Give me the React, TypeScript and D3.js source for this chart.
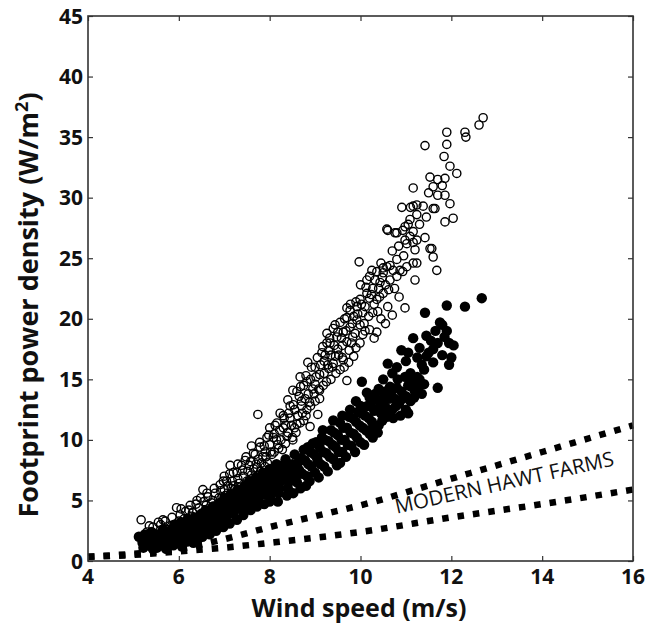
import React, { useEffect, useRef } from 'react';
import * as d3 from 'd3';

// [wind speed (m/s), power density (W/m2)]
const openPoints: [number, number][] = [
  [5.17, 3.4], [5.3, 2.4], [5.35, 2.9], [5.43, 2.8], [5.5, 2.2], [5.55, 3.2], [5.6, 3.0], [5.65, 3.4], [5.7, 3.3],
  [5.75, 2.6], [5.8, 2.9], [5.85, 3.6], [5.9, 3.0], [5.95, 4.4], [6.0, 3.3], [6.03, 3.8], [6.05, 4.3], [6.1, 2.9],
  [6.12, 3.5], [6.15, 4.1], [6.2, 3.5], [6.22, 4.2], [6.25, 4.6], [6.28, 3.7], [6.3, 4.0], [6.35, 3.2], [6.38, 4.7],
  [6.4, 5.0], [6.42, 3.6], [6.45, 4.4], [6.48, 5.2], [6.5, 3.9], [6.53, 5.9], [6.55, 4.9], [6.58, 4.2], [6.6, 4.6],
  [6.62, 5.6], [6.64, 5.3], [6.65, 3.8], [6.7, 4.2], [6.72, 4.8], [6.75, 5.0], [6.78, 6.0], [6.8, 5.6], [6.85, 4.7],
  [6.88, 5.2], [6.9, 4.5], [6.91, 6.3], [6.92, 5.8], [6.95, 5.3], [6.98, 6.6], [7.0, 5.9], [7.0, 7.0], [7.02, 5.4],
  [7.05, 6.6], [7.08, 6.2], [7.1, 5.2], [7.12, 7.2], [7.13, 7.9], [7.15, 6.0], [7.18, 6.6], [7.2, 7.3], [7.2, 6.2],
  [7.22, 5.9], [7.25, 5.7], [7.28, 7.3], [7.3, 6.8], [7.3, 8.0], [7.32, 6.4], [7.35, 6.1], [7.38, 7.9], [7.4, 7.5],
  [7.42, 7.0], [7.45, 6.0], [7.46, 8.3], [7.48, 8.6], [7.5, 6.6], [7.52, 7.4], [7.55, 7.9], [7.58, 8.2], [7.6, 7.1],
  [7.6, 9.5], [7.62, 6.8], [7.64, 8.9], [7.65, 7.6], [7.68, 8.8], [7.7, 8.0], [7.72, 7.7], [7.74, 12.1], [7.75, 8.4],
  [7.78, 9.8], [7.79, 9.4], [7.8, 7.4], [7.82, 8.1], [7.85, 8.6], [7.88, 9.5], [7.9, 9.0], [7.9, 7.8], [7.92, 8.6],
  [7.94, 10.2], [7.95, 8.1], [7.98, 10.4], [8.0, 9.6], [8.0, 11.0], [8.02, 9.0], [8.05, 8.8], [8.08, 10.2],
  [8.1, 10.5], [8.1, 9.0], [8.12, 11.2], [8.15, 10.0], [8.16, 11.4], [8.18, 9.6], [8.2, 9.3], [8.22, 10.8],
  [8.23, 12.2], [8.25, 10.0], [8.28, 9.2], [8.3, 11.0], [8.3, 12.0], [8.32, 11.8], [8.35, 9.7], [8.35, 11.2],
  [8.38, 10.3], [8.4, 13.3], [8.4, 10.6], [8.42, 12.2], [8.45, 11.8], [8.45, 12.8], [8.48, 11.2], [8.5, 10.2],
  [8.51, 14.1], [8.51, 10.0], [8.52, 12.9], [8.55, 12.5], [8.55, 11.0], [8.58, 10.6], [8.6, 11.3], [8.6, 14.0],
  [8.62, 12.0], [8.65, 13.6], [8.67, 15.2], [8.67, 11.4], [8.68, 14.4], [8.7, 12.8], [8.7, 13.2], [8.72, 12.2],
  [8.75, 14.5], [8.75, 11.6], [8.78, 13.4], [8.8, 12.0], [8.8, 15.3], [8.82, 12.5], [8.82, 14.8], [8.84, 16.4],
  [8.85, 13.8], [8.88, 13.1], [8.89, 11.1], [8.9, 15.0], [8.9, 12.8], [8.92, 16.0], [8.95, 14.2], [8.98, 13.8],
  [9.0, 13.2], [9.0, 16.0], [9.0, 14.6], [9.02, 15.2], [9.05, 16.8], [9.06, 12.1], [9.08, 14.2], [9.1, 14.1],
  [9.1, 15.4], [9.1, 13.4], [9.12, 16.2], [9.15, 17.2], [9.17, 17.7], [9.18, 14.5], [9.2, 16.5], [9.2, 15.5],
  [9.22, 17.0], [9.25, 14.8], [9.26, 18.0], [9.26, 18.8], [9.28, 16.2], [9.3, 15.9], [9.3, 17.4], [9.32, 18.4],
  [9.33, 18.0], [9.35, 17.0], [9.35, 15.0], [9.38, 16.0], [9.4, 19.2], [9.4, 16.3], [9.42, 17.8], [9.44, 19.5],
  [9.45, 16.9], [9.46, 15.5], [9.48, 18.5], [9.5, 17.5], [9.5, 18.9], [9.52, 17.0], [9.55, 19.7], [9.55, 15.8],
  [9.58, 18.4], [9.6, 16.8], [9.6, 17.8], [9.62, 18.9], [9.62, 16.6], [9.64, 16.0], [9.65, 20.0], [9.68, 19.0],
  [9.7, 20.1], [9.7, 18.1], [9.7, 14.9], [9.7, 20.9], [9.74, 16.4], [9.75, 17.4], [9.77, 20.7], [9.77, 19.3],
  [9.78, 21.2], [9.8, 18.0], [9.82, 19.6], [9.83, 18.5], [9.85, 16.9], [9.85, 20.2], [9.88, 18.8], [9.9, 21.4],
  [9.9, 17.6], [9.92, 21.0], [9.92, 19.9], [9.94, 20.4], [9.97, 24.7], [9.99, 21.6], [9.99, 19.5], [9.99, 18.0],
  [10.0, 22.8], [10.02, 21.2], [10.05, 20.5], [10.05, 18.7], [10.08, 19.6], [10.1, 19.0], [10.1, 21.0],
  [10.12, 22.6], [10.14, 22.1], [10.14, 23.2], [10.18, 20.2], [10.2, 23.5], [10.2, 21.7], [10.2, 19.1],
  [10.24, 22.0], [10.25, 24.0], [10.27, 22.5], [10.27, 20.5], [10.3, 18.4], [10.3, 21.2], [10.32, 23.2],
  [10.36, 23.9], [10.36, 21.6], [10.36, 18.9], [10.38, 20.6], [10.4, 22.5], [10.42, 21.8], [10.43, 23.0],
  [10.45, 20.0], [10.45, 24.6], [10.48, 23.4], [10.5, 24.2], [10.5, 22.1], [10.5, 23.8], [10.55, 19.6],
  [10.55, 22.8], [10.58, 27.4], [10.58, 24.3], [10.6, 21.0], [10.6, 27.3], [10.62, 22.4], [10.65, 24.4],
  [10.65, 23.2], [10.7, 20.3], [10.7, 25.6], [10.72, 24.0], [10.75, 22.5], [10.76, 27.1], [10.8, 24.9],
  [10.8, 23.5], [10.8, 27.1], [10.84, 26.0], [10.85, 21.8], [10.87, 24.0], [10.91, 29.2], [10.93, 23.9],
  [10.93, 27.3], [10.95, 25.2], [10.98, 27.6], [10.98, 26.5], [10.98, 20.9], [11.02, 26.2], [11.02, 24.3],
  [11.05, 27.8], [11.09, 28.2], [11.09, 26.8], [11.1, 29.2], [11.16, 30.8], [11.16, 29.3], [11.16, 27.2],
  [11.16, 26.3], [11.16, 24.6], [11.2, 25.7], [11.2, 23.2], [11.24, 28.6], [11.24, 29.4], [11.24, 26.5],
  [11.24, 24.6], [11.3, 27.8], [11.38, 29.3], [11.42, 26.7], [11.42, 34.3], [11.45, 28.4], [11.5, 30.4],
  [11.53, 31.7], [11.53, 25.8], [11.57, 25.8], [11.6, 30.9], [11.6, 29.1], [11.6, 25.1], [11.64, 29.1],
  [11.68, 24.0], [11.7, 31.5], [11.7, 30.2], [11.8, 31.0], [11.84, 33.4], [11.86, 31.6], [11.86, 30.2],
  [11.86, 28.0], [11.9, 35.4], [11.9, 34.4], [11.97, 32.6], [11.97, 29.5], [12.04, 28.3], [12.12, 32.0],
  [12.3, 35.4], [12.32, 35.0], [12.61, 36.0], [12.7, 36.6],
];

const filledPoints: [number, number][] = [
  [5.12, 2.0], [5.2, 1.5], [5.22, 1.1], [5.25, 2.2], [5.28, 1.9], [5.3, 1.3], [5.35, 1.8], [5.38, 1.4], [5.4, 2.4],
  [5.43, 1.0], [5.47, 2.0], [5.5, 1.6], [5.52, 1.1], [5.55, 2.2], [5.6, 1.3], [5.62, 1.8], [5.65, 2.6], [5.68, 2.2],
  [5.7, 1.9], [5.72, 1.0], [5.75, 1.4], [5.78, 2.0], [5.8, 2.5], [5.85, 1.8], [5.88, 1.3], [5.9, 3.0], [5.92, 2.5],
  [5.95, 2.2], [5.98, 1.9], [6.0, 1.5], [6.0, 2.7], [6.02, 3.1], [6.05, 3.2], [6.07, 1.2], [6.1, 2.0], [6.12, 2.4],
  [6.15, 2.6], [6.18, 1.6], [6.2, 3.4], [6.22, 3.0], [6.25, 1.9], [6.28, 2.3], [6.3, 2.8], [6.32, 1.5], [6.35, 3.6],
  [6.38, 3.0], [6.4, 2.3], [6.42, 1.8], [6.45, 3.1], [6.48, 3.4], [6.5, 3.9], [6.5, 2.6], [6.52, 2.0], [6.55, 3.3],
  [6.58, 2.8], [6.6, 4.2], [6.62, 3.6], [6.65, 2.8], [6.68, 2.2], [6.7, 3.6], [6.72, 3.2], [6.75, 4.5], [6.78, 4.1],
  [6.8, 3.1], [6.82, 2.5], [6.85, 4.0], [6.88, 3.5], [6.9, 4.8], [6.92, 4.4], [6.95, 3.4], [6.98, 2.8], [7.0, 4.2],
  [7.0, 5.2], [7.02, 3.6], [7.05, 3.7], [7.08, 4.9], [7.1, 4.6], [7.12, 3.1], [7.15, 5.5], [7.18, 4.3], [7.2, 3.9],
  [7.22, 5.3], [7.25, 4.9], [7.28, 3.4], [7.3, 5.9], [7.32, 4.6], [7.35, 4.3], [7.38, 5.7], [7.4, 5.3], [7.42, 3.8],
  [7.45, 6.2], [7.48, 5.0], [7.5, 4.5], [7.5, 5.6], [7.52, 6.1], [7.55, 6.6], [7.58, 4.2], [7.6, 4.9], [7.62, 5.4],
  [7.65, 5.9], [7.68, 6.4], [7.7, 6.9], [7.72, 4.5], [7.75, 5.2], [7.78, 5.7], [7.8, 6.3], [7.82, 6.8], [7.85, 7.3],
  [7.88, 4.7], [7.9, 5.5], [7.92, 6.0], [7.95, 6.6], [7.98, 7.0], [8.0, 7.6], [8.0, 4.9], [8.02, 5.4], [8.05, 5.9],
  [8.08, 6.4], [8.1, 7.0], [8.12, 7.4], [8.15, 8.0], [8.18, 4.9], [8.2, 5.6], [8.22, 6.0], [8.25, 6.6], [8.28, 7.0],
  [8.3, 7.5], [8.32, 8.0], [8.35, 8.4], [8.38, 5.4], [8.4, 6.0], [8.42, 6.5], [8.45, 7.1], [8.48, 7.6], [8.5, 8.0],
  [8.52, 5.6], [8.55, 8.8], [8.58, 7.0], [8.6, 6.5], [8.62, 8.1], [8.65, 7.5], [8.68, 6.0], [8.7, 8.5], [8.72, 7.2],
  [8.75, 9.2], [8.78, 8.3], [8.8, 6.2], [8.82, 7.0], [8.84, 9.4], [8.85, 8.0], [8.88, 6.6], [8.9, 9.0], [8.92, 7.8],
  [8.95, 9.7], [8.98, 8.8], [9.0, 7.3], [9.02, 9.8], [9.05, 8.4], [9.08, 6.9], [9.1, 9.4], [9.12, 8.0], [9.15, 10.2],
  [9.17, 10.8], [9.18, 9.0], [9.2, 7.8], [9.22, 10.0], [9.25, 8.9], [9.28, 7.4], [9.3, 9.9], [9.32, 8.6],
  [9.35, 10.8], [9.38, 9.6], [9.4, 8.4], [9.4, 11.6], [9.42, 10.6], [9.45, 9.4], [9.48, 7.9], [9.5, 10.4],
  [9.52, 9.0], [9.55, 11.4], [9.55, 8.1], [9.58, 10.0], [9.6, 9.0], [9.6, 12.0], [9.62, 11.0], [9.65, 10.0],
  [9.68, 8.6], [9.7, 11.0], [9.72, 9.6], [9.75, 11.9], [9.77, 12.5], [9.78, 10.6], [9.8, 9.5], [9.82, 11.8],
  [9.85, 10.5], [9.88, 9.0], [9.9, 11.5], [9.9, 13.2], [9.92, 10.2], [9.95, 12.3], [9.98, 11.2], [10.0, 9.8],
  [10.0, 12.8], [10.02, 12.2], [10.03, 14.8], [10.05, 11.0], [10.08, 9.6], [10.1, 12.0], [10.12, 10.8],
  [10.14, 13.9], [10.15, 12.8], [10.18, 11.8], [10.2, 10.5], [10.2, 13.5], [10.22, 12.8], [10.25, 11.5],
  [10.27, 10.2], [10.28, 11.0], [10.3, 12.4], [10.32, 13.8], [10.35, 13.3], [10.38, 10.6], [10.4, 11.2],
  [10.4, 14.2], [10.42, 12.7], [10.45, 12.2], [10.48, 11.6], [10.5, 13.1], [10.5, 15.0], [10.52, 13.6],
  [10.55, 14.0], [10.58, 11.9], [10.58, 12.6], [10.6, 16.3], [10.62, 13.4], [10.65, 14.4], [10.68, 14.0],
  [10.7, 12.5], [10.7, 15.5], [10.72, 11.8], [10.75, 13.4], [10.78, 12.8], [10.8, 14.3], [10.8, 16.0],
  [10.82, 15.0], [10.85, 13.0], [10.88, 12.0], [10.9, 17.4], [10.9, 14.0], [10.92, 13.4], [10.98, 15.2],
  [11.0, 12.5], [11.0, 13.6], [11.0, 16.5], [11.05, 14.5], [11.05, 12.2], [11.05, 17.2], [11.1, 13.2],
  [11.1, 15.5], [11.12, 14.4], [11.16, 18.4], [11.16, 14.9], [11.18, 13.5], [11.2, 14.0], [11.25, 16.8],
  [11.25, 15.2], [11.28, 14.5], [11.3, 15.0], [11.3, 17.6], [11.35, 16.2], [11.35, 13.8], [11.4, 15.8],
  [11.4, 14.6], [11.42, 20.5], [11.45, 16.9], [11.45, 18.6], [11.5, 17.2], [11.55, 18.2], [11.6, 17.5],
  [11.6, 16.4], [11.65, 19.0], [11.7, 14.3], [11.7, 18.0], [11.75, 19.7], [11.8, 17.0], [11.8, 19.5],
  [11.85, 18.5], [11.9, 21.1], [11.9, 19.0], [11.95, 16.2], [11.95, 18.0], [12.0, 16.8], [12.05, 17.8],
  [12.3, 21.0], [12.67, 21.7],
];

// "MODERN HAWT FARMS" bounds
const hawtUpper: [number, number][] = [
  [4, 0.35], [5, 0.6], [6, 1.0], [7, 1.8], [8, 2.8], [9, 3.7], [10, 4.6], [12, 6.8], [14, 9.0], [16, 11.2],
];
const hawtLower: [number, number][] = [
  [4, 0.35], [5, 0.5], [6, 0.8], [7, 1.1], [8, 1.5], [10, 2.4], [12, 3.6], [14, 4.7], [16, 5.9],
];

const xTicks = [4, 6, 8, 10, 12, 14, 16];
const yTicks = [0, 5, 10, 15, 20, 25, 30, 35, 40, 45];

const App = () => {
  const svgRef = useRef<SVGSVGElement>(null);

  useEffect(() => {
    document.body.style.margin = '0';
    const width = 647;
    const height = 628;
    const margin = { top: 16, right: 14, bottom: 67, left: 88 };
    const font = '"Open Sans", Lato, sans-serif';

    const x = d3.scaleLinear().domain([4, 16]).range([margin.left, width - margin.right]);
    const y = d3.scaleLinear().domain([0, 45]).range([height - margin.bottom, margin.top]);

    const svg = d3.select(svgRef.current)
      .attr('width', width)
      .attr('height', height)
      .style('display', 'block');

    svg.selectAll('*').remove();

    svg.append('rect').attr('width', width).attr('height', height).attr('fill', '#fff');

    const line = d3.line<[number, number]>()
      .x(d => x(d[0]))
      .y(d => y(d[1]))
      .curve(d3.curveMonotoneX);

    [hawtUpper, hawtLower].forEach(data => {
      svg.append('path')
        .datum(data)
        .attr('fill', 'none')
        .attr('stroke', '#000')
        .attr('stroke-width', 6.5)
        .attr('stroke-dasharray', '6.5,9')
        .attr('d', line);
    });

    svg.append('g')
      .selectAll('circle')
      .data(filledPoints)
      .join('circle')
      .attr('cx', d => x(d[0]))
      .attr('cy', d => y(d[1]))
      .attr('r', 5.2)
      .attr('fill', '#000');

    svg.append('g')
      .selectAll('circle')
      .data(openPoints)
      .join('circle')
      .attr('cx', d => x(d[0]))
      .attr('cy', d => y(d[1]))
      .attr('r', 4.1)
      .attr('fill', 'none')
      .attr('stroke', '#000')
      .attr('stroke-width', 1.4);

    // frame with inward ticks
    const x0 = margin.left, x1 = width - margin.right;
    const y0 = height - margin.bottom, y1 = margin.top;
    const axisColor = '#333';

    const bottom = svg.append('g').attr('transform', `translate(0,${y0})`)
      .call(d3.axisBottom(x).tickValues(xTicks).tickSize(-5).tickFormat(() => ''));
    const top = svg.append('g').attr('transform', `translate(0,${y1})`)
      .call(d3.axisTop(x).tickValues(xTicks).tickSize(-5).tickFormat(() => ''));
    const left = svg.append('g').attr('transform', `translate(${x0},0)`)
      .call(d3.axisLeft(y).tickValues(yTicks).tickSize(-5).tickFormat(() => ''));
    const right = svg.append('g').attr('transform', `translate(${x1},0)`)
      .call(d3.axisRight(y).tickValues(yTicks).tickSize(-5).tickFormat(() => ''));
    [bottom, top, left, right].forEach(g => {
      g.select('.domain').remove();
      g.selectAll('line').attr('stroke', axisColor).attr('stroke-width', 1.2);
    });

    svg.append('rect')
      .attr('x', x0).attr('y', y1)
      .attr('width', x1 - x0).attr('height', y0 - y1)
      .attr('fill', 'none')
      .attr('stroke', axisColor)
      .attr('stroke-width', 1.6);

    svg.append('g').selectAll('text')
      .data(xTicks)
      .join('text')
      .attr('x', d => x(d))
      .attr('y', y0 + 23)
      .attr('text-anchor', 'middle')
      .attr('font-family', font)
      .attr('font-weight', 'bold')
      .attr('font-size', 21)
      .attr('fill', '#111')
      .text(d => d);

    svg.append('g').selectAll('text')
      .data(yTicks)
      .join('text')
      .attr('x', x0 - 5)
      .attr('y', d => y(d) + 7.5)
      .attr('text-anchor', 'end')
      .attr('font-family', font)
      .attr('font-weight', 'bold')
      .attr('font-size', 21)
      .attr('fill', '#111')
      .text(d => d);

    svg.append('text')
      .attr('x', 359)
      .attr('y', 617)
      .attr('text-anchor', 'middle')
      .attr('font-family', font)
      .attr('font-weight', 'bold')
      .attr('font-size', 25)
      .attr('fill', '#111')
      .text('Wind speed (m/s)');

    const yLabel = svg.append('text')
      .attr('transform', 'translate(38,305) rotate(-90)')
      .attr('text-anchor', 'middle')
      .attr('font-family', font)
      .attr('font-weight', 'bold')
      .attr('font-size', 27)
      .attr('fill', '#111');
    yLabel.append('tspan').text('Footprint power density (W/m');
    yLabel.append('tspan').attr('dy', -10).attr('font-size', 18).text('2');
    yLabel.append('tspan').attr('dy', 10).text(')');

    svg.append('text')
      .attr('transform', `translate(${x(13.2)},${y(5.9)}) rotate(-12.5)`)
      .attr('text-anchor', 'middle')
      .attr('font-family', font)
      .attr('font-size', 20.5)
      .attr('fill', '#111')
      .text('MODERN HAWT FARMS');
  }, []);

  return <svg ref={svgRef}></svg>;
};

export default App;
